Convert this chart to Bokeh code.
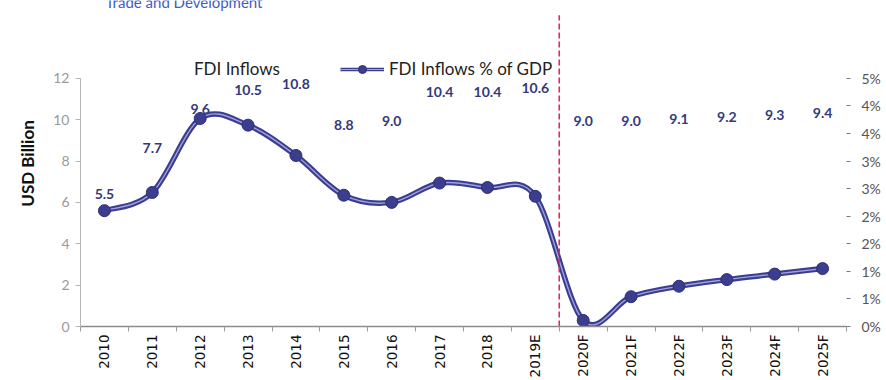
import math
import numpy as np
from bokeh.plotting import figure
from bokeh.models import (Range1d, LinearAxis, FixedTicker, CustomJSTickFormatter,
                          ColumnDataSource, Legend, LegendItem, Label)
from bokeh.core.properties import value
from bokeh.embed import file_html
from bokeh.resources import INLINE

# ---- data -------------------------------------------------------------
years = ["2010", "2011", "2012", "2013", "2014", "2015", "2016", "2017", "2018",
         "2019E", "2020F", "2021F", "2022F", "2023F", "2024F", "2025F"]
fdi_inflows = [5.5, 7.7, 9.6, 10.5, 10.8, 8.8, 9.0, 10.4, 10.4, 10.6,
               9.0, 9.0, 9.1, 9.2, 9.3, 9.4]                       # USD billion
fdi_pct_gdp = [2.10, 2.43, 3.77, 3.65, 3.10, 2.38, 2.25, 2.60, 2.52, 2.36,
               0.11, 0.54, 0.73, 0.85, 0.95, 1.05]                 # % of GDP
left_ticks = [0, 2, 4, 6, 8, 10, 12]
right_ticks = [0, 0.5, 1, 1.5, 2, 2.5, 3, 3.5, 4, 4.5]
forecast_from = "2020F"

NAVY = "#3b3d8e"
LABEL_NAVY = "#34397e"
LIGHT = "#9ea0e0"

n = len(years)
xs = np.arange(n) + 0.5            # category centres on a numeric x scale

# the plotting area reaches the top of the canvas so that the legend,
# the heading and the divider can sit above the 12-unit level
Y_TOP = 15.76
PCT_TOP = Y_TOP * 4.5 / 12

p = figure(width=886, height=380, x_range=Range1d(0, n), y_range=Range1d(0, Y_TOP),
           output_backend="svg", toolbar_location=None,
           min_border_left=80, min_border_right=40, min_border_top=0, min_border_bottom=53)
p.extra_y_ranges = {"pct": Range1d(0, PCT_TOP)}
p.outline_line_color = None
p.grid.visible = False
p.background_fill_color = "white"
p.border_fill_color = "white"

# ---- left axis (USD billion) -----------------------------------------
ya = p.yaxis[0]
ya.bounds = (0, 12)
ya.ticker = FixedTicker(ticks=left_ticks)
ya.axis_label = "USD Billion"
ya.axis_label_text_font = "Lato"
ya.axis_label_text_font_style = "bold"
ya.axis_label_text_font_size = "17px"
ya.axis_label_text_color = "#111111"
ya.axis_label_standoff = 12
ya.major_label_text_font = "Lato"
ya.major_label_text_font_size = "14px"
ya.major_label_text_color = "#9a9a9a"
ya.major_label_standoff = 6
ya.axis_line_color = "#b5b5b5"
ya.major_tick_line_color = "#b5b5b5"
ya.major_tick_out = 5
ya.major_tick_in = 0
ya.minor_tick_line_color = None
ya.minor_tick_out = 0

# ---- bottom axis: tick marks between categories ----------------------
xa = p.xaxis[0]
xa.ticker = FixedTicker(ticks=list(range(n + 1)))
xa.formatter = CustomJSTickFormatter(code="return '';")
xa.major_label_text_font_size = "0px"
xa.major_label_standoff = 0
xa.axis_line_color = "#8a8a8a"
xa.axis_line_width = 1.3
xa.major_tick_line_color = "#9a9a9a"
xa.major_tick_out = 5
xa.major_tick_in = 0
xa.minor_tick_line_color = None
xa.minor_tick_out = 0

# ---- bottom axis: category names --------------------------------------
xl = LinearAxis(ticker=FixedTicker(ticks=list(xs)),
                formatter=CustomJSTickFormatter(args=dict(labels=years),
                                                code="return labels[Math.floor(tick)];"))
xl.axis_line_color = None
xl.major_tick_line_color = None
xl.minor_tick_line_color = None
xl.major_tick_out = 0
xl.major_tick_in = 0
xl.minor_tick_out = 0
xl.minor_tick_in = 0
xl.major_label_orientation = math.pi / 2
xl.major_label_text_font = "DejaVu Sans"
xl.major_label_text_font_size = "13.5px"
xl.major_label_text_color = "#111111"
xl.major_label_standoff = 3
p.add_layout(xl, "below")

# ---- right axis (% of GDP) -------------------------------------------
ra = LinearAxis(y_range_name="pct", ticker=FixedTicker(ticks=right_ticks), bounds=(0, 4.5),
                formatter=CustomJSTickFormatter(code="return Math.round(tick) + '%';"))
ra.axis_line_color = None
ra.major_tick_line_color = "#777777"
ra.major_tick_out = 4
ra.major_tick_in = 0
ra.minor_tick_line_color = None
ra.minor_tick_out = 0
ra.major_label_text_font = "Lato"
ra.major_label_text_font_size = "14px"
ra.major_label_text_color = "#555555"
ra.major_label_standoff = 11
p.add_layout(ra, "right")

# ---- FDI inflows: bars without fill, value labels --------------------
bars = p.vbar(x=xs, top=fdi_inflows, width=0.6, fill_alpha=0, line_alpha=0)
p.text(x=xs, y=fdi_inflows, text=[f"{v:.1f}" for v in fdi_inflows],
       text_font=value("Lato"), text_font_style="bold", text_font_size="14px",
       text_color=LABEL_NAVY, text_align="center", text_baseline="middle", y_offset=-19)

# ---- FDI inflows % of GDP: smoothed line with markers ----------------
y = np.array(fdi_pct_gdp)
x0, y0, x1, y1, cx0, cy0, cx1, cy1 = ([] for _ in range(8))
for i in range(n - 1):
    ia, ib = max(i - 1, 0), min(i + 2, n - 1)
    x0.append(xs[i]); y0.append(y[i]); x1.append(xs[i + 1]); y1.append(y[i + 1])
    cx0.append(xs[i] + (xs[i + 1] - xs[ia]) / 6); cy0.append(y[i] + (y[i + 1] - y[ia]) / 6)
    cx1.append(xs[i + 1] - (xs[ib] - xs[i]) / 6); cy1.append(y[i + 1] - (y[ib] - y[i]) / 6)
curve = ColumnDataSource(dict(x0=x0, y0=y0, x1=x1, y1=y1, cx0=cx0, cy0=cy0, cx1=cx1, cy1=cy1))
p.bezier(x0="x0", y0="y0", x1="x1", y1="y1", cx0="cx0", cy0="cy0", cx1="cx1", cy1="cy1",
         source=curve, y_range_name="pct", line_color=NAVY, line_width=5.5)
p.bezier(x0="x0", y0="y0", x1="x1", y1="y1", cx0="cx0", cy0="cy0", cx1="cx1", cy1="cy1",
         source=curve, y_range_name="pct", line_color=LIGHT, line_width=1.4)
p.scatter(x=xs, y=fdi_pct_gdp, y_range_name="pct", size=12, marker="circle",
          fill_color=NAVY, line_color="#2c2e78", line_width=1)

# ---- forecast divider -------------------------------------------------
x_div = float(years.index(forecast_from))
p.segment(x0=[x_div], y0=[0], x1=[x_div], y1=[15.05], line_color="#e8245e",
          line_width=1.6, line_dash="6 3")

# ---- heading (top edge of the canvas) ---------------------------------
p.add_layout(Label(x=0.52, y=15.68, text="Trade and Development", text_font="Lato",
                   text_font_size="15px", text_color="#3f5cc8", text_baseline="alphabetic"))

# ---- legends ----------------------------------------------------------
nan = [float("nan")]
leg_line = p.line(x=nan, y=nan, line_color=NAVY, line_width=3.5)
leg_line2 = p.line(x=nan, y=nan, line_color=LIGHT, line_width=1)
leg_dot = p.scatter(x=nan, y=nan, size=10, marker="circle", fill_color=NAVY,
                    line_color="#2c2e78")

common = dict(orientation="horizontal", background_fill_alpha=0, border_line_color=None,
              padding=0, margin=0, label_text_font="Lato", label_text_font_size="17px",
              label_text_color="#222222", label_height=20, glyph_height=20,
              glyph_width=44, label_standoff=5)
leg1 = Legend(items=[LegendItem(label="FDI Inflows", renderers=[bars])],
              location=(65, 247), **common)
leg2 = Legend(items=[LegendItem(label="FDI Inflows % of GDP",
                                renderers=[leg_line, leg_line2, leg_dot])],
              location=(260, 247), **common)
p.add_layout(leg1, "center")
p.add_layout(leg2, "center")

open("out.html", "w").write(file_html(p, INLINE))
